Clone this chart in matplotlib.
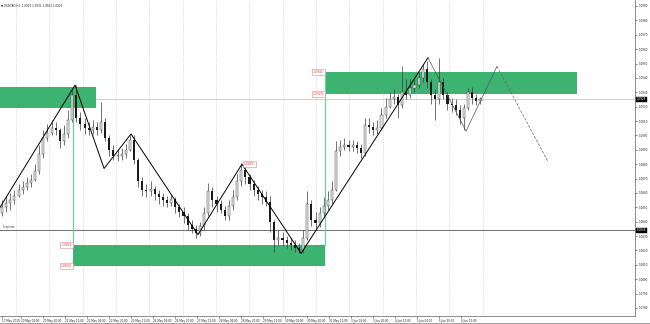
import numpy as np
import matplotlib.pyplot as plt
from matplotlib.patches import Rectangle
import matplotlib.transforms as mtransforms

# chart header
symbol = 'USDCAD,H1'
header_prices = '1.0925 1.0931 1.0923 1.0925'

# 3-hour candles (open = previous close)
first_open = 1.0846
close = [1.0850, 1.0853, 1.0855, 1.0858, 1.0862, 1.0864, 1.0867, 1.0869, 1.0875, 1.0887,
         1.0898, 1.0902, 1.0905, 1.0904, 1.0896, 1.0901, 1.0911, 1.0928, 1.0912, 1.0908,
         1.0905, 1.0904, 1.0906, 1.0904, 1.0909, 1.0898, 1.0890, 1.0886, 1.0886, 1.0887,
         1.0890, 1.0897, 1.0883, 1.0868, 1.0862, 1.0861, 1.0863, 1.0859, 1.0857, 1.0855,
         1.0853, 1.0856, 1.0850, 1.0847, 1.0844, 1.0838, 1.0835, 1.0832, 1.0837, 1.0846,
         1.0861, 1.0855, 1.0852, 1.0848, 1.0844, 1.0851, 1.0857, 1.0868, 1.0876, 1.0871,
         1.0866, 1.0862, 1.0859, 1.0857, 1.0854, 1.0840, 1.0827, 1.0829, 1.0827, 1.0825,
         1.0824, 1.0822, 1.0820, 1.0829, 1.0852, 1.0841, 1.0839, 1.0846, 1.0851, 1.0855,
         1.0862, 1.0889, 1.0892, 1.0893, 1.0892, 1.0893, 1.0891, 1.0888, 1.0907, 1.0906,
         1.0904, 1.0905, 1.0914, 1.0920, 1.0925, 1.0927, 1.0921, 1.0930, 1.0928, 1.0933,
         1.0935, 1.0940, 1.0946, 1.0937, 1.0928, 1.0925, 1.0937, 1.0928, 1.0922, 1.0921,
         1.0918, 1.0912, 1.0919, 1.0930, 1.0926, 1.0924, 1.0925]
high = [1.0855, 1.0858, 1.0860, 1.0862, 1.0866, 1.0868, 1.0871, 1.0873, 1.0880, 1.0893,
        1.0904, 1.0908, 1.0911, 1.0909, 1.0905, 1.0907, 1.0918, 1.0933, 1.0935, 1.0916,
        1.0912, 1.0909, 1.0911, 1.0909, 1.0923, 1.0912, 1.0900, 1.0893, 1.0890, 1.0891,
        1.0894, 1.0900, 1.0900, 1.0884, 1.0871, 1.0866, 1.0868, 1.0865, 1.0862, 1.0860,
        1.0858, 1.0859, 1.0857, 1.0852, 1.0850, 1.0846, 1.0841, 1.0838, 1.0840, 1.0850,
        1.0867, 1.0864, 1.0858, 1.0855, 1.0851, 1.0855, 1.0862, 1.0873, 1.0881, 1.0880,
        1.0873, 1.0869, 1.0865, 1.0862, 1.0861, 1.0858, 1.0841, 1.0834, 1.0833, 1.0830,
        1.0829, 1.0827, 1.0825, 1.0834, 1.0861, 1.0855, 1.0847, 1.0850, 1.0857, 1.0861,
        1.0868, 1.0896, 1.0897, 1.0898, 1.0897, 1.0897, 1.0896, 1.0894, 1.0912, 1.0912,
        1.0909, 1.0911, 1.0919, 1.0926, 1.0930, 1.0932, 1.0929, 1.0948, 1.0939, 1.0939,
        1.0940, 1.0944, 1.0950, 1.0952, 1.0939, 1.0932, 1.0954, 1.0940, 1.0930, 1.0926,
        1.0925, 1.0921, 1.0922, 1.0933, 1.0934, 1.0929, 1.0927]
low = [1.0844, 1.0847, 1.0848, 1.0852, 1.0857, 1.0859, 1.0862, 1.0864, 1.0868, 1.0873,
       1.0884, 1.0896, 1.0900, 1.0900, 1.0891, 1.0893, 1.0898, 1.0909, 1.0909, 1.0904,
       1.0901, 1.0900, 1.0901, 1.0900, 1.0902, 1.0896, 1.0886, 1.0883, 1.0882, 1.0883,
       1.0884, 1.0889, 1.0880, 1.0864, 1.0858, 1.0857, 1.0858, 1.0855, 1.0852, 1.0851,
       1.0850, 1.0851, 1.0846, 1.0843, 1.0839, 1.0834, 1.0832, 1.0829, 1.0830, 1.0834,
       1.0844, 1.0850, 1.0847, 1.0846, 1.0841, 1.0841, 1.0848, 1.0855, 1.0865, 1.0866,
       1.0862, 1.0858, 1.0855, 1.0852, 1.0851, 1.0833, 1.0819, 1.0824, 1.0823, 1.0822,
       1.0820, 1.0819, 1.0818, 1.0818, 1.0827, 1.0837, 1.0834, 1.0836, 1.0844, 1.0848,
       1.0852, 1.0861, 1.0886, 1.0890, 1.0889, 1.0889, 1.0888, 1.0884, 1.0886, 1.0902,
       1.0900, 1.0901, 1.0904, 1.0912, 1.0919, 1.0922, 1.0912, 1.0919, 1.0925, 1.0926,
       1.0930, 1.0933, 1.0937, 1.0933, 1.0922, 1.0911, 1.0922, 1.0925, 1.0918, 1.0916,
       1.0914, 1.0908, 1.0904, 1.0918, 1.0922, 1.0921, 1.0922]

# supply / demand zones (start hour, end hour, top, bottom)
zone_start = [-2.0, 51.6, 234.9]
zone_end = [68.4, 234.9, 418.2]
zone_top = [1.0934, 1.0824, 1.0944]
zone_bottom = [1.0919, 1.0809, 1.0929]

# zigzag pivots
zz_hours = [-1.5, 53.1, 74.2, 93.8, 142.5, 174.5, 217.5, 309.8]
zz_prices = [1.0850, 1.0935, 1.0877, 1.0901, 1.0831, 1.0880, 1.0818, 1.0954]
proj_hours = [309.8, 337.5, 360.0]
proj_prices = [1.0954, 1.0903, 1.0948]
target_hours = [360.0, 397.0]
target_prices = [1.0948, 1.0882]

bid_price = 1.0925
stop_price = 1.0834

price_ticks = [1.0990, 1.0980, 1.0970, 1.0960, 1.0950, 1.0940, 1.0930, 1.0920, 1.0910, 1.0900, 1.0890,
               1.0880, 1.0870, 1.0860, 1.0850, 1.0840, 1.0830, 1.0820, 1.0810, 1.0800, 1.0790, 1.0780]
date_labels = ['17 May 2019', '20 May 04:00', '20 May 20:00', '21 May 12:00', '22 May 04:00',
               '22 May 20:00', '23 May 12:00', '24 May 04:00', '24 May 20:00', '27 May 12:00',
               '28 May 04:00', '28 May 20:00', '29 May 12:00', '30 May 04:00', '30 May 20:00',
               '31 May 12:00', '3 Jun 04:00', '3 Jun 20:00', '4 Jun 12:00', '5 Jun 04:00',
               '5 Jun 20:00', '6 Jun 12:00']

green = '#3cb371'
red = '#d94040'

fig = plt.figure(figsize=(6.5, 3.24), dpi=100)
ax = fig.add_axes([0, 8 / 324, 635 / 650, 316 / 324])
ax.set_xlim(-1.5, 460.4)
ax.set_ylim(1.077442, 1.099417)

close = np.array(close)
high = np.array(high)
low = np.array(low)
opens = np.array([first_open] + list(close[:-1]))
hours = np.arange(len(close)) * 3.0

# vertical dotted grid
for gx in 10.2 + 24.25 * np.arange(15):
    ax.axvline(gx, color='#c4c4c4', lw=0.5, ls=(0, (1, 1.5)), zorder=0)

ax.axhline(bid_price, color='#c8c8c8', lw=0.6, zorder=1)
ax.axhline(stop_price, color='#6e6e6e', lw=0.7, zorder=1)
ax.text(0.5, stop_price + 0.00008, 'Stop loss', fontsize=1.8, color='#333333', va='bottom')

for s, e, t, b in zip(zone_start, zone_end, zone_top, zone_bottom):
    ax.add_patch(Rectangle((s, b), e - s, t - b, facecolor=green, edgecolor='none', zorder=2))

ax.plot([51.6, 51.6], [1.0919, 1.0824], color='#6fd0a0', lw=0.9, zorder=2)
ax.plot([234.9, 234.9], [1.0944, 1.0824], color='#6fd0a0', lw=0.9, zorder=2)

# candles
ax.vlines(hours, low, high, color='#3a3a3a', lw=0.5, zorder=3)
up = close >= opens
body = np.maximum(np.abs(close - opens), 0.00004)
bottoms = np.minimum(close, opens)
ax.bar(hours[up], body[up], bottom=bottoms[up], width=1.5, facecolor='#e8e8e8',
       edgecolor='#333333', lw=0.3, zorder=4)
ax.bar(hours[~up], body[~up], bottom=bottoms[~up], width=1.5, color='#1a1a1a', lw=0, zorder=4)

# zigzag and projection
ax.plot(zz_hours, zz_prices, color='black', lw=0.7, zorder=5)
ax.plot(proj_hours, proj_prices, color='#555555', lw=0.5, zorder=5)
ax.plot(target_hours, target_prices, color='#666666', lw=0.5, ls=(0, (4, 2)), zorder=5)

# red price labels
red_labels = [(50.8, 1.0824), (50.8, 1.0809), (234.0, 1.0944), (234.0, 1.0929)]
for lx, ly in red_labels:
    ax.text(lx, ly, f'{ly:.4f}', fontsize=2.2, color=red, ha='right', va='center', zorder=6,
            bbox=dict(boxstyle='square,pad=0.3', fc='white', ec='#e08a8a', lw=0.4))
ax.text(176.0, 1.0880, '1.0880', fontsize=2.2, color=red, ha='left', va='center', zorder=6,
        bbox=dict(boxstyle='square,pad=0.3', fc='white', ec='#e08a8a', lw=0.4))

# axes styling
for side in ['top', 'left']:
    ax.spines[side].set_visible(False)
ax.spines['right'].set_color('#7a7a7a')
ax.spines['bottom'].set_color('#7a7a7a')
ax.spines['right'].set_linewidth(0.6)
ax.spines['bottom'].set_linewidth(0.6)

ax.yaxis.tick_right()
ax.set_yticks(price_ticks)
ax.set_yticklabels([f'{p:.4f}' for p in price_ticks])
ax.tick_params(axis='y', labelsize=2, length=1.5, width=0.4, pad=1, colors='#222222')

tick_hours = np.arange(len(date_labels)) * 16 - 2.5
tick_hours[0] = 0
ax.set_xticks(tick_hours)
ax.set_xticklabels(date_labels, ha='left')
ax.tick_params(axis='x', labelsize=2, length=1.5, width=0.4, pad=0.8, colors='#222222')

tr = mtransforms.blended_transform_factory(ax.transAxes, ax.transData)
for p in [bid_price, stop_price]:
    ax.text(1.003, p, f'{p:.4f}', transform=tr, fontsize=2, color='white', ha='left', va='center',
            clip_on=False, bbox=dict(boxstyle='square,pad=0.25', fc='black', ec='black', lw=0.3))

fig.text(0.002, 0.99, '\u25bc ' + symbol + '  ' + header_prices, fontsize=2, color='#222222',
         ha='left', va='top')
fig.add_artist(plt.Line2D([0, 1], [0.002, 0.002], color='#909090', lw=0.6))

fig.savefig('out.png', dpi=100)
